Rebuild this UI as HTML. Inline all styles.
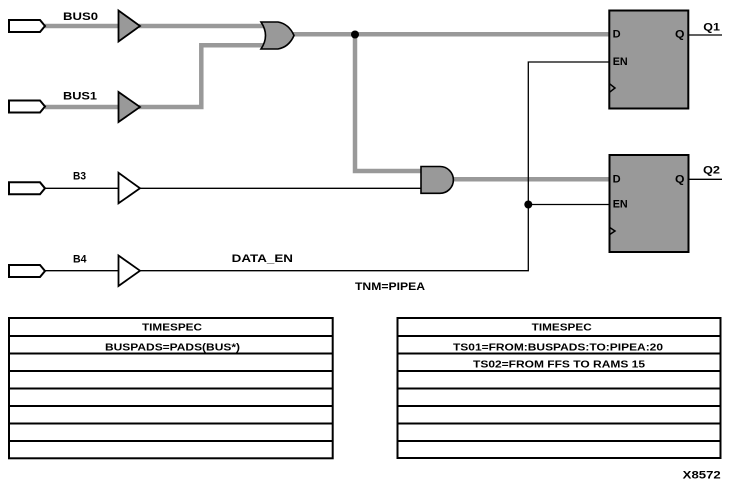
<!DOCTYPE html>
<html><head><meta charset="utf-8"><style>
html,body{margin:0;padding:0;background:#fff;}
svg{display:block;}
text{font-family:"Liberation Sans",Arial,sans-serif;font-weight:bold;fill:#000;}
</style></head><body>
<svg width="731" height="487" viewBox="0 0 731 487" xmlns="http://www.w3.org/2000/svg">
<rect x="0" y="0" width="731" height="487" fill="#fff"/>
<!-- gray bus wires -->
<g stroke="#999" stroke-width="4.5" fill="none">
<line x1="45" y1="26" x2="119" y2="26"/>
<line x1="139" y1="26" x2="264" y2="26"/>
<line x1="45" y1="107" x2="119" y2="107"/>
<polyline points="139,107 201.3,107 201.3,45.3 265,45.3"/>
<line x1="292" y1="34.3" x2="610" y2="34.3"/>
<polyline points="355,34 355,171 422,171"/>
<line x1="452" y1="179.3" x2="610" y2="179.3"/>
</g>
<!-- thin black wires -->
<g stroke="#000" stroke-width="1.3" fill="none">
<line x1="45" y1="188.3" x2="119" y2="188.3"/>
<line x1="139" y1="188.3" x2="421" y2="188.3"/>
<line x1="45" y1="270.7" x2="119" y2="270.7"/>
<polyline points="139,270.7 528.3,270.7 528.3,62 609,62"/>
<line x1="528.3" y1="204.5" x2="609" y2="204.5"/>
<line x1="689" y1="35" x2="722" y2="35"/>
<line x1="689" y1="179.3" x2="722" y2="179.3"/>
</g>
<!-- junction dots -->
<circle cx="355" cy="34.5" r="4" fill="#000"/>
<circle cx="528.3" cy="204.5" r="4" fill="#000"/>
<!-- input pads -->
<g stroke="#000" stroke-width="2" fill="#fff">
<polygon points="9,20 40,20 45,26 40,32 9,32"/>
<polygon points="9,100.5 40,100.5 45,106.5 40,112.5 9,112.5"/>
<polygon points="9,182.3 40,182.3 45,188.3 40,194.3 9,194.3"/>
<polygon points="9,265 40,265 45,271 40,277 9,277"/>
</g>
<!-- buffers -->
<g stroke="#000" stroke-width="1.8">
<polygon points="118.5,10.5 118.5,41.5 140,26" fill="#999"/>
<polygon points="118.5,92 118.5,122 140,107" fill="#999"/>
<polygon points="118.5,172.8 118.5,203.3 140,188.3" fill="#fff"/>
<polygon points="118.5,255.5 118.5,286 140,270.7" fill="#fff"/>
</g>
<!-- OR gate -->
<path d="M261,22 L278,22 Q289,24 294,35.5 Q289,47 278,49 L261,49 Q270,35.5 261,22 Z" fill="#999" stroke="#000" stroke-width="1.6"/>
<!-- AND gate -->
<path d="M421,166.5 L440,166.5 A13.4 13.4 0 0 1 440,193.3 L421,193.3 Z" fill="#999" stroke="#000" stroke-width="1.6"/>
<!-- flip flops -->
<rect x="609.3" y="10.5" width="79" height="98" fill="#999" stroke="#000" stroke-width="2"/>
<rect x="609.5" y="155" width="79" height="97" fill="#999" stroke="#000" stroke-width="2"/>
<polyline points="609,83.3 615,88 609,92.7" fill="none" stroke="#000" stroke-width="1.5"/>
<polyline points="609,227 615,231 609,235" fill="none" stroke="#000" stroke-width="1.5"/>
<!-- labels -->
<g font-size="11">
<text x="63" y="20" textLength="35" lengthAdjust="spacingAndGlyphs">BUS0</text>
<text x="63" y="99.5" textLength="34" lengthAdjust="spacingAndGlyphs">BUS1</text>
<text x="73" y="179.3" textLength="13" lengthAdjust="spacingAndGlyphs">B3</text>
<text x="73" y="262.7" textLength="13.5" lengthAdjust="spacingAndGlyphs">B4</text>
<text x="231.7" y="262" textLength="61.3" lengthAdjust="spacingAndGlyphs">DATA_EN</text>
<text x="355" y="290" textLength="70" lengthAdjust="spacingAndGlyphs">TNM=PIPEA</text>
<text x="612.7" y="37.7" textLength="8" lengthAdjust="spacingAndGlyphs">D</text>
<text x="675" y="37.7" textLength="9.5" lengthAdjust="spacingAndGlyphs">Q</text>
<text x="612.7" y="65" textLength="15" lengthAdjust="spacingAndGlyphs">EN</text>
<text x="703.3" y="30.7" textLength="16.7" lengthAdjust="spacingAndGlyphs">Q1</text>
<text x="612.7" y="182.7" textLength="8" lengthAdjust="spacingAndGlyphs">D</text>
<text x="675" y="182.7" textLength="9.5" lengthAdjust="spacingAndGlyphs">Q</text>
<text x="612.7" y="207.7" textLength="15" lengthAdjust="spacingAndGlyphs">EN</text>
<text x="703" y="173.3" textLength="17" lengthAdjust="spacingAndGlyphs">Q2</text>
</g>
<!-- left table -->
<g stroke="#000" stroke-width="2" fill="none">
<rect x="9" y="318" width="323.7" height="140.3"/>
<line x1="9" y1="336" x2="332.7" y2="336"/>
<line x1="9" y1="353.5" x2="332.7" y2="353.5"/>
<line x1="9" y1="371" x2="332.7" y2="371"/>
<line x1="9" y1="388.5" x2="332.7" y2="388.5"/>
<line x1="9" y1="406" x2="332.7" y2="406"/>
<line x1="9" y1="423.5" x2="332.7" y2="423.5"/>
<line x1="9" y1="441" x2="332.7" y2="441"/>
</g>
<!-- right table -->
<g stroke="#000" stroke-width="2" fill="none">
<rect x="397.5" y="318" width="323" height="140"/>
<line x1="397.5" y1="336" x2="720.5" y2="336"/>
<line x1="397.5" y1="353.5" x2="720.5" y2="353.5"/>
<line x1="397.5" y1="371" x2="720.5" y2="371"/>
<line x1="397.5" y1="388.5" x2="720.5" y2="388.5"/>
<line x1="397.5" y1="406" x2="720.5" y2="406"/>
<line x1="397.5" y1="423.5" x2="720.5" y2="423.5"/>
<line x1="397.5" y1="441" x2="720.5" y2="441"/>
</g>
<g font-size="10.5">
<text x="142" y="330.7" textLength="60" lengthAdjust="spacingAndGlyphs">TIMESPEC</text>
<text x="105" y="350.5" textLength="135" lengthAdjust="spacingAndGlyphs">BUSPADS=PADS(BUS*)</text>
<text x="531.7" y="330.7" textLength="60" lengthAdjust="spacingAndGlyphs">TIMESPEC</text>
<text x="453" y="350.7" textLength="210" lengthAdjust="spacingAndGlyphs">TS01=FROM:BUSPADS:TO:PIPEA:20</text>
<text x="473" y="367.3" textLength="172" lengthAdjust="spacingAndGlyphs">TS02=FROM FFS TO RAMS 15</text>
</g>
<text x="682.7" y="478.3" font-size="11" textLength="38" lengthAdjust="spacingAndGlyphs">X8572</text>
</svg>
</body></html>
